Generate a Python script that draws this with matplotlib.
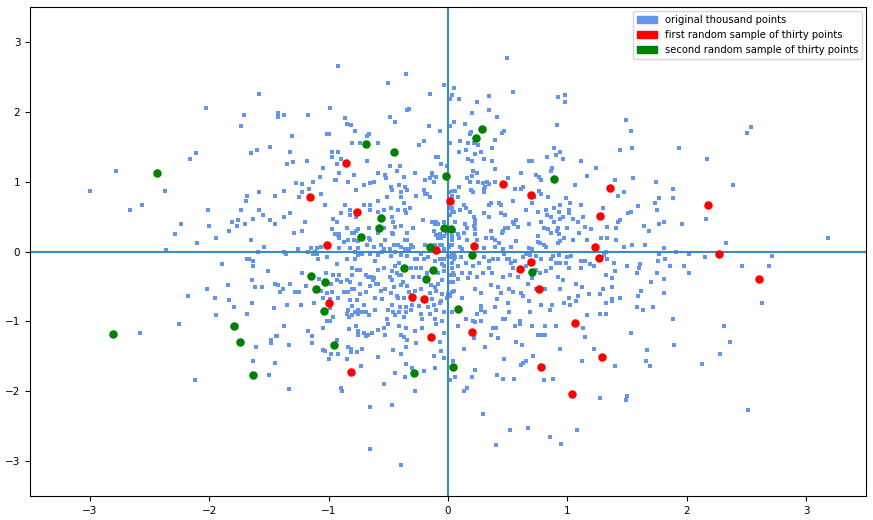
import matplotlib
matplotlib.use("Agg")
import matplotlib.pyplot as plt
import matplotlib.patches as mpatches

# ---- original thousand points (grouped by region) ----
blue_far_left = [(-2.03,2.06),(-1.71,1.95),(-1.73,1.79),(-2.11,1.41),(-2.16,1.32),(-2.78,1.15),
    (-3.00,0.87),(-2.37,0.86),(-2.66,0.60),(-2.56,0.66),(-2.01,0.59),(-2.24,0.40),(-2.00,0.37),
    (-1.81,0.42),(-1.76,0.45),(-1.77,0.36),(-1.83,0.30),(-2.29,0.25),(-1.94,0.19),(-2.10,0.12),
    (-2.36,0.02),(-1.89,-0.18),(-1.84,-0.48),(-2.02,-0.54),(-2.18,-0.63),(-1.95,-0.66),(-1.83,-0.70),
    (-1.79,-0.80),(-1.94,-0.91),(-2.25,-1.03),(-2.58,-1.16),(-2.12,-1.84)]

blue_upper_left = [(-0.92,2.65),(-0.35,2.54),(-0.50,2.41),(-0.03,2.38),(0.05,2.34),(-1.58,2.25),(-0.15,2.26),
    (0.03,2.24),(0.02,2.19),(-0.99,2.05),(-1.42,1.99),(-1.42,1.92),(-1.37,1.95),(-1.17,1.95),(-0.86,1.91),
    (-0.34,2.02),(-0.33,2.04),(-0.49,1.93),(-0.44,1.85),(-0.85,1.82),(-0.81,1.81),(-0.78,1.73),(-1.01,1.68),
    (-0.995,1.685),(-1.31,1.66),(-0.68,1.66),(-0.66,1.68),(-0.16,1.79),(-0.07,1.72),(0.02,1.79),(0.05,1.86),
    (-0.80,1.55),(-0.74,1.55),(-0.59,1.55),(-0.20,1.58),(-0.24,1.52),(0.02,1.56),(-1.49,1.49),(-1.65,1.41),
    (-1.60,1.46),(-1.32,1.42),(-0.97,1.43),(-0.92,1.42),(-0.97,1.35),(-0.90,1.32),(-0.68,1.30),(-1.35,1.26),
    (-1.30,1.28),(-1.18,1.30),(-0.93,1.25),(-0.10,1.36),(-0.08,1.36),(-0.06,1.26),(-0.01,1.23),(-0.49,1.22),
    (-0.40,1.22)]

blue_upper_right = [(0.49,2.77),(0.09,2.19),(0.54,2.29),(0.34,2.22),(0.24,2.14),(0.92,2.21),(0.98,2.24),
    (0.98,2.14),(0.20,1.99),(0.34,2.02),(0.41,1.93),(0.14,1.83),(0.91,1.81),(1.49,1.89),(1.53,1.72),
    (1.54,1.48),(1.44,1.46),(0.19,1.71),(0.18,1.68),(0.47,1.73),(0.45,1.69),(0.10,1.58),(0.17,1.56),
    (0.22,1.55),(0.25,1.52),(0.39,1.59),(0.37,1.48),(0.09,1.42),(0.15,1.45),(0.23,1.39),(0.28,1.43),
    (0.30,1.33),(0.17,1.33),(0.20,1.29),(0.37,1.30),(0.89,1.48),(0.90,1.38),(0.94,1.42),(0.83,1.36),
    (0.96,1.33),(0.68,1.30),(0.70,1.30),(1.11,1.30),
    (2.54,1.78),(2.50,1.69),(1.93,1.48),(2.17,1.33)]

blue_center_left = [(-1.05,1.20),(-0.91,1.12),(-0.79,1.09),(-0.59,1.12),(-0.53,1.09),(-0.43,1.15),(-0.28,1.12),
    (-0.13,1.13),(-0.13,1.09),(-0.10,1.06),(-0.15,1.05),(-1.07,1.06),(-0.95,1.02),(-0.94,1.02),(-0.84,0.99),
    (-0.70,0.95),(-0.65,0.98),(-0.62,0.99),(-0.52,1.05),(-0.48,0.93),(-0.41,0.95),(-0.37,1.06),(-0.36,0.93),
    (-0.19,1.02),(-0.12,1.00),(-1.27,0.98),(-1.22,0.96),(-1.13,0.99),(-1.16,0.90),(-1.22,0.85),(-1.37,0.86),
    (-1.45,0.80),(-1.58,0.85),(-1.68,0.80),(-1.69,0.73),(-1.25,0.78),(-1.06,0.82),(-0.77,0.88),(-0.47,0.88),
    (-0.39,0.85),(-0.34,0.88),(-0.27,0.80),(-0.20,0.88),(-0.19,0.83),(-0.18,0.82),(-0.15,0.78),(-0.39,0.78),
    (-0.51,0.78),(-0.37,0.70),(-0.59,0.72),(-0.70,0.67),(-0.65,0.67),(-0.86,0.66),(-1.03,0.67),(0.01,0.85),
    (0.04,0.86),(-1.73,0.59),(-1.58,0.60),(-1.55,0.53),(-1.63,0.46),(-1.49,0.45),(-1.45,0.39),(-1.37,0.50),
    (-1.32,0.55),(-1.20,0.42),(-0.90,0.55),(-0.96,0.47),(-0.82,0.60),(-0.82,0.53),(-0.93,0.43),(-0.77,0.49),
    (-0.65,0.59),(-0.59,0.57),(-0.54,0.60),(-0.48,0.62),(-0.47,0.49),(-0.42,0.59),(-0.36,0.60),(-0.35,0.55),
    (-0.46,0.42),(-0.39,0.37),(-0.32,0.63),(-0.21,0.45),(-0.11,0.40),(-0.13,0.42),(-0.10,0.42),(-0.08,0.40),
    (-0.03,0.43),(0.01,0.62),(0.03,0.63),(0.05,0.56),(0.02,0.52),(-1.70,0.39),(-1.65,0.16),(-1.29,0.26),
    (-1.22,0.29),(-0.97,0.32),(-0.95,0.25),(-0.92,0.23),(-0.91,0.19),(-0.91,0.25),(-0.85,0.33),(-0.84,0.17),
    (-0.80,0.26),(-0.79,0.27),(-0.77,0.29),(-0.75,0.32),(-0.79,0.16),(-0.87,0.13),(-0.75,0.15),(-0.66,0.33),
    (-0.66,0.20),(-0.65,0.17),(-0.59,0.26),(-0.54,0.33),(-0.53,0.17),(-0.47,0.27),(-0.46,0.25),(-0.44,0.35),
    (-0.36,0.16),(-0.34,0.16),(-0.34,0.26),(-0.29,0.33),(-0.12,0.30),(-0.10,0.23),(-0.08,0.20),(-0.07,0.25),
    (-0.06,0.19),(-0.03,0.22),(-0.01,0.27),(0.02,0.33),(0.03,0.22),(0.03,0.17),(0.05,0.29),(-1.54,0.06),
    (-1.26,0.03),(-1.15,0.05),(-1.10,0.05),(-1.06,0.06),(-0.91,0.05),(-0.82,0.05),(-0.75,0.05),(-0.68,0.09),
    (-0.62,0.07),(-0.56,0.09),(-0.54,0.03),(-0.49,0.03),(-0.45,0.09),(-0.42,0.10),(-0.39,0.06),(-0.36,0.03),
    (-0.33,0.03),(-0.31,0.10),(-0.29,0.07),(-0.19,0.09),(-0.11,0.09),(-0.07,0.09),(-0.05,0.10),(-0.03,0.03),
    (0.01,0.06),(0.03,0.10)]

blue_center_left_low = [(-1.68,-0.10),(-1.67,-0.11),(-1.63,-0.14),(-1.63,-0.21),(-1.59,0.00),(-1.37,-0.01),
    (-1.36,-0.04),(-1.17,-0.01),(-1.13,-0.04),(-1.11,0.00),(-1.10,-0.03),(-1.09,-0.10),(-1.01,-0.08),
    (-0.93,-0.18),(-0.85,-0.11),(-0.78,-0.01),(-0.78,-0.11),(-0.75,-0.05),(-0.72,-0.03),(-0.65,-0.03),
    (-0.59,-0.05),(-0.61,-0.13),(-0.55,-0.01),(-0.48,-0.07),(-0.44,-0.01),(-0.39,-0.05),(-0.34,-0.07),
    (-0.28,-0.10),(-0.26,-0.11),(-0.23,-0.03),(-0.20,-0.11),(-0.17,-0.08),(-0.11,-0.13),(-0.07,-0.10),
    (-0.03,-0.10),(0.00,-0.07),(0.03,-0.05),(0.05,-0.04),(0.03,-0.08),(-0.44,-0.21),(-0.41,-0.16),
    (-0.31,-0.24),(-0.27,-0.23),(-0.23,-0.24),(-0.05,-0.18),(-0.03,-0.21),(0.03,-0.17),(0.05,-0.10),
    (-1.51,-0.28),(-1.22,-0.30),(-1.02,-0.31),(-0.96,-0.34),(-0.91,-0.34),(-0.80,-0.24),(-0.80,-0.33),
    (-0.85,-0.41),(-0.76,-0.27),(-0.74,-0.27),(-0.67,-0.36),(-0.69,-0.33),(-0.64,-0.37),(-0.62,-0.38),
    (-0.63,-0.41),(-0.59,-0.26),(-0.54,-0.24),(-0.59,-0.47),(-0.49,-0.36),(-0.47,-0.28),(-0.43,-0.30),
    (-0.41,-0.34),(-0.39,-0.33),(-0.47,-0.41),(-0.38,-0.44),(-0.39,-0.48),(-0.29,-0.36),(-0.24,-0.37),
    (-0.18,-0.31),(-0.08,-0.30),(-0.03,-0.28),(0.02,-0.34),(0.04,-0.31),(-0.05,-0.41),(-0.08,-0.47),
    (-0.11,-0.51),(-0.14,-0.48),(0.02,-0.43),(-1.64,-0.41),(-1.62,-0.51),(-1.56,-0.51),(-1.45,-0.46),
    (-1.42,-0.48),(-1.32,-0.46),(-1.19,-0.50),(-1.08,-0.40),(-0.98,-0.46),(-0.93,-0.41),(-0.90,-0.43),
    (-0.82,-0.43),(-0.80,-0.53),(-0.79,-0.53),(-0.74,-0.46),(-0.65,-0.50),(-0.60,-0.47),(-0.53,-0.53),
    (-0.45,-0.51),(-0.34,-0.50),(-1.38,-0.54),(-1.41,-0.58),(-1.28,-0.58),(-1.25,-0.58),(-1.06,-0.56),
    (-1.01,-0.60),(-0.97,-0.58),(-0.87,-0.58),(-0.84,-0.58),(-0.74,-0.61),(-0.69,-0.58),(-0.56,-0.57),
    (-0.48,-0.60),(-0.43,-0.64),(-0.37,-0.66),(-0.33,-0.58),(-0.28,-0.57),(-0.23,-0.54),(-0.15,-0.60),
    (-0.10,-0.57),(-0.05,-0.61),(0.00,-0.61),(0.05,-0.57),(-1.05,-0.67),(-0.99,-0.68),(-0.92,-0.67),
    (-0.82,-0.70),(-0.76,-0.70),(-0.61,-0.66),(-0.55,-0.68),(-0.42,-0.67),(-0.29,-0.70),(-0.13,-0.68),
    (-0.06,-0.71),(-0.01,-0.66),(-1.64,-0.73),(-1.35,-0.76),(-1.23,-0.76),(-1.12,-0.73),(-0.80,-0.78),
    (-0.70,-0.77),(-0.47,-0.77),(-0.40,-0.80),(-0.35,-0.80),(-0.30,-0.76),(-0.24,-0.78),(-0.17,-0.80),
    (-0.12,-0.77),(-0.07,-0.74),(-1.68,-0.89),(-1.46,-0.81),(-0.99,-0.81),(-0.84,-0.83),(-0.78,-0.86),
    (-0.75,-0.83),(-0.75,-0.90),(-0.85,-0.90),(-0.69,-0.86),(-0.61,-0.83),(-0.50,-0.84),(-0.46,-0.86),
    (-0.41,-0.87),(-0.35,-0.86),(-0.31,-0.84),(-0.23,-0.89),(-0.15,-0.89),(-0.10,-0.83),(-0.03,-0.86),
    (0.03,-0.86),(-1.01,-1.00),(-0.99,-1.00),(-0.96,-0.94),(-0.83,-0.93),(-0.80,-0.91),(-0.72,-0.87),
    (-0.66,-0.91),(-0.51,-0.96),(-0.44,-0.91),(-0.37,-0.94),(-0.22,-0.96),(-0.11,-0.96),(-0.05,-0.99),
    (-1.37,-1.07),(-1.17,-1.14),(-1.05,-1.09),(-0.83,-1.11),(-0.77,-1.07),(-0.75,-1.14),(-0.70,-1.16),
    (-0.64,-1.16),(-0.59,-1.13),(-0.54,-1.10),(-0.50,-1.04),(-0.41,-1.06),(-0.35,-1.09),(-0.28,-1.14),
    (-0.22,-1.09),(-0.10,-1.04),(-1.43,-1.21),(-0.75,-1.19),(-0.67,-1.20),(-0.53,-1.20),(-0.39,-1.19),
    (-0.03,-1.17)]

blue_center_right = [(0.21,1.16),(0.24,1.13),(0.20,1.08),(0.39,1.18),(0.61,1.12),(0.74,1.10),(0.76,1.06),
    (0.78,1.03),(0.86,1.15),(0.87,1.20),(1.16,1.08),(1.40,1.03),(1.24,1.20),(0.09,0.93),(0.16,1.05),
    (0.18,0.99),(0.25,1.00),(0.29,0.98),(0.33,1.00),(0.39,1.00),(0.50,1.05),(0.06,0.86),(0.03,0.80),
    (0.08,0.78),(0.13,0.66),(0.19,0.88),(0.21,0.85),(0.30,0.90),(0.30,0.85),(0.31,0.92),(0.34,0.96),
    (0.36,0.70),(0.34,0.67),(0.43,0.70),(0.44,0.67),(0.54,0.72),(0.56,0.89),(0.61,0.90),(0.63,0.92),
    (0.70,0.69),(0.72,0.78),(0.76,0.86),(0.78,0.82),(0.84,0.78),(0.89,0.63),(0.94,0.67),(0.99,0.76),
    (1.02,0.70),(1.06,0.95),(1.11,0.66),(1.30,0.62),(1.42,0.79),(1.47,0.85),(1.55,1.05),(1.59,0.65),
    (1.74,0.99),(1.77,0.76),(1.73,0.70),(0.02,0.62),(0.03,0.56),(0.10,0.59),(0.15,0.62),(0.18,0.57),
    (0.22,0.50),(0.23,0.45),(0.23,0.39),(0.30,0.55),(0.34,0.49),(0.44,0.55),(0.48,0.52),(0.54,0.43),
    (0.55,0.40),(0.57,0.45),(0.65,0.59),(0.68,0.40),(0.75,0.56),(0.78,0.43),(0.82,0.59),(0.83,0.52),
    (0.86,0.49),(0.89,0.43),(0.93,0.56),(0.94,0.46),(0.96,0.49),(1.01,0.60),(1.01,0.55),(1.05,0.47),
    (1.09,0.42),(1.13,0.49),(1.15,0.35),(1.20,0.32),(1.33,0.35),(1.41,0.33),(1.42,0.42),(1.44,0.45),
    (1.51,0.55),(1.53,0.56),(1.64,0.37),(1.68,0.30),(1.75,0.60),(1.81,0.43),(0.04,0.32),(0.13,0.26),
    (0.16,0.33),(0.23,0.32),(0.22,0.37),(0.14,0.40),(0.06,0.43),(0.08,0.25),(0.09,0.19),(0.16,0.17),
    (0.23,0.25),(0.24,0.17),(0.32,0.20),(0.36,0.30),(0.37,0.19),(0.39,0.16),(0.43,0.12),(0.45,0.27),
    (0.46,0.30),(0.48,0.33),(0.50,0.33),(0.57,0.15),(0.59,0.35),(0.75,0.22),(0.80,0.33),(0.84,0.32),
    (0.86,0.27),(0.91,0.30),(0.92,0.33),(0.93,0.25),(0.97,0.19),(1.00,0.33),(1.05,0.16),(1.10,0.27),
    (1.16,0.17),(1.28,0.20),(1.33,0.20),(1.41,0.16),(1.47,0.06),(1.54,0.09),(1.65,0.10),(1.81,0.05),
    (0.02,0.10),(0.10,0.06),(0.12,0.03),(0.30,0.05),(0.39,0.07),(0.46,0.03),(0.53,0.06),(0.68,0.05),
    (0.70,0.03),(0.75,0.13),(0.77,0.12),(0.80,0.09),(0.82,0.07),(0.92,0.12),(0.94,0.15)]

blue_center_right_low = [(0.02,-0.08),(0.06,-0.08),(0.11,-0.08),(0.15,-0.16),(0.21,-0.20),(0.26,-0.16),
    (0.30,-0.08),(0.34,-0.14),(0.38,-0.10),(0.42,-0.10),(0.49,-0.10),(0.51,-0.11),(0.53,-0.16),(0.47,-0.04),
    (0.56,-0.14),(0.63,-0.08),(0.65,-0.03),(0.69,-0.05),(0.74,-0.07),(0.78,-0.10),(0.86,-0.10),(0.88,-0.07),
    (0.90,-0.16),(0.93,-0.05),(0.94,-0.17),(1.00,-0.08),(0.99,-0.17),(1.03,-0.07),(1.11,-0.14),(1.11,-0.23),
    (1.15,-0.14),(1.19,-0.18),(1.22,-0.20),(1.33,-0.10),(1.32,-0.01),(1.31,-0.05),(1.39,-0.16),(1.50,-0.21),
    (1.61,-0.18),(1.77,-0.04),(1.82,-0.10),(0.03,-0.24),(0.08,-0.20),(0.05,-0.33),(0.08,-0.40),(0.12,-0.31),
    (0.17,-0.38),(0.18,-0.30),(0.24,-0.37),(0.29,-0.31),(0.34,-0.23),(0.37,-0.30),(0.46,-0.36),(0.52,-0.33),
    (0.54,-0.24),(0.59,-0.37),(0.65,-0.21),(0.67,-0.46),(0.70,-0.38),(0.74,-0.26),(0.77,-0.30),(0.82,-0.28),
    (0.86,-0.24),(0.92,-0.37),(0.96,-0.41),(1.01,-0.24),(1.07,-0.46),(1.12,-0.51),(1.32,-0.33),(1.40,-0.28),
    (1.37,-0.38),(1.37,-0.51),(1.58,-0.30),(1.60,-0.24),(1.70,-0.43),(1.75,-0.30),(1.81,-0.40),(0.04,-0.43),
    (0.03,-0.58),(0.02,-0.63),(0.12,-0.66),(0.23,-0.53),(0.28,-0.60),(0.36,-0.48),(0.42,-0.51),(0.44,-0.60),
    (0.51,-0.54),(0.54,-0.58),(0.61,-0.60),(0.63,-0.63),(0.68,-0.71),(0.74,-0.53),(0.81,-0.54),(0.94,-0.53),
    (1.01,-0.66),(1.09,-0.63),(1.18,-0.61),(1.27,-0.61),(1.30,-0.54),(1.32,-0.74),(1.37,-0.71),(1.44,-0.67),
    (1.59,-0.64),(1.62,-0.56),(1.81,-0.60),(0.41,-0.68),(0.50,-0.74),(0.28,-0.78),(0.28,-0.84),(0.24,-0.89),
    (0.21,-1.00),(0.23,-1.01),(0.31,-0.87),(0.39,-0.80),(0.46,-0.97),(0.48,-0.97),(0.51,-0.86),(0.60,-0.99),
    (0.60,-1.04),(0.69,-0.86),(0.78,-0.77),(0.85,-0.84),(0.87,-0.76),(0.97,-0.73),(1.02,-0.76),(1.07,-0.71),
    (1.16,-0.91),(1.27,-0.89),(1.32,-0.89),(1.37,-0.68),(1.58,-0.80),(1.63,-0.83),(1.72,-0.80),(0.15,-0.97),
    (0.08,-1.07),(0.28,-1.00),(0.38,-1.10),(0.40,-1.10),(0.56,-1.07),(0.70,-1.06),(0.81,-1.07),(0.75,-1.19),
    (0.78,-1.19),(0.81,-1.20),(0.90,-1.07),(1.13,-1.09),(1.53,-1.17),(0.36,-1.20)]

blue_far_right = [(1.88,0.90),(1.88,0.76),(2.39,0.95),(2.16,0.47),(1.77,0.40),(1.96,0.39),(2.33,0.12),
    (3.18,0.19),(1.91,-0.01),(2.02,-0.04),(2.15,-0.08),(1.76,-0.13),(1.86,-0.21),(1.98,-0.20),(2.02,-0.31),
    (2.46,-0.21),(2.71,-0.07),(2.69,-0.20),(2.63,-0.74),(1.88,-0.97),(2.31,-1.06),
    (1.89,-1.34),(2.36,-1.29),(2.28,-1.46),(2.13,-1.61),(2.51,-2.27)]

blue_lower = [(-1.14,-1.21),(-1.44,-1.21),(-1.48,-1.27),(-1.48,-1.31),(-1.61,-1.37),(-1.33,-1.34),(-1.14,-1.31),
    (-0.93,-1.26),(-1.05,-1.41),(-1.03,-1.43),(-0.98,-1.47),(-0.92,-1.46),(-1.00,-1.54),(-0.84,-1.37),
    (-0.81,-1.40),(-0.81,-1.44),(-0.76,-1.44),(-0.72,-1.39),(-0.85,-1.54),(-0.73,-1.64),(-0.69,-1.21),
    (-0.59,-1.51),(-0.46,-1.41),(-0.39,-1.47),(-0.37,-1.23),(-0.34,-1.26),(-0.35,-1.37),(-0.27,-1.31),
    (-0.35,-1.61),(-0.30,-1.67),(-0.20,-1.71),(-0.11,-1.66),(-0.12,-1.49),(-0.07,-1.30),(-0.06,-1.43),
    (-0.03,-1.53),(-0.44,-1.74),(-0.36,-1.79),(-0.54,-1.89),(-0.28,-2.00),(-1.63,-1.57),(-1.45,-1.59),
    (-1.50,-1.77),(-1.33,-1.97),(-0.90,-1.96),(-0.89,-1.99),(-0.65,-2.23),(-0.47,-2.20),(-0.65,-2.83),
    (-0.39,-3.05),(0.04,-1.57),(0.02,-1.84),(0.06,-1.80),
    (0.22,-1.21),(0.22,-1.24),(0.42,-1.24),(1.15,-1.23),(0.57,-1.29),(0.62,-1.34),(0.13,-1.40),(0.31,-1.37),
    (0.94,-1.39),(1.22,-1.40),(1.67,-1.41),(1.66,-1.56),(1.69,-1.64),(1.40,-1.64),(1.12,-1.56),(0.71,-1.50),
    (0.47,-1.54),(0.65,-1.57),(0.63,-1.60),(0.61,-1.63),(0.23,-1.69),(0.20,-1.79),(0.41,-1.77),(0.46,-1.83),
    (0.55,-1.82),(0.80,-1.84),(0.88,-1.83),(0.13,-1.99),(0.16,-1.96),(0.29,-2.32),(0.52,-2.55),(0.67,-2.53),
    (0.85,-2.66),(0.95,-2.75),(1.08,-2.56),(0.40,-2.77),(1.27,-2.09),(1.50,-2.07),(1.49,-2.13)]

# ---- first random sample of thirty points ----
red_x = [-0.855, -1.157, -0.763, -1.014, -0.100, 0.017, 0.461, 0.696, 1.358, 1.274,
         0.215, 1.232, 1.266, 0.696, 0.604, 0.763, 1.065, 0.201, 2.179, 2.272,
         2.607, -0.302, -0.201, -0.997, -0.813, -0.142, 0.780, 1.291, 1.039]
red_y = [1.262, 0.776, 0.561, 0.089, 0.021, 0.718, 0.962, 0.804, 0.905, 0.504,
         0.074, 0.060, -0.097, -0.155, -0.255, -0.541, -1.028, -1.157, 0.661, -0.040,
         -0.398, -0.656, -0.684, -0.741, -1.729, -1.228, -1.658, -1.514, -2.044]

# ---- second random sample of thirty points ----
green_x = [-0.687, -0.453, 0.285, 0.235, -2.440, -1.794, -2.808, -1.743, -0.562, -0.578,
           -0.729, -0.151, -0.036, 0.025, -0.019, -0.371, -0.126, -0.184, -1.151, -1.031,
           -1.106, -1.039, 0.084, 0.889, 0.201, 0.704, -1.634, -0.955, -0.285, 0.042]
green_y = [1.534, 1.420, 1.749, 1.620, 1.119, -1.071, -1.185, -1.300, 0.475, 0.332,
           0.203, 0.060, 0.332, 0.318, 1.076, -0.240, -0.270, -0.398, -0.355, -0.441,
           -0.541, -0.856, -0.827, 1.033, -0.054, -0.298, -1.772, -1.343, -1.743, -1.658]

legend_labels = ["original thousand points",
                 "first random sample of thirty points",
                 "second random sample of thirty points"]
ticks = [-3, -2, -1, 0, 1, 2, 3]

blue_all = (blue_far_left + blue_upper_left + blue_upper_right + blue_center_left +
            blue_center_left_low + blue_center_right + blue_center_right_low +
            blue_far_right + blue_lower)
blue_x = [p[0] for p in blue_all]
blue_y = [p[1] for p in blue_all]

plt.rcParams['font.family'] = ['DejaVu Sans']
plt.rcParams['font.size'] = 7.5

fig = plt.figure(figsize=(8.73, 5.2), dpi=100)
ax = fig.add_axes([0.0344, 0.046, 0.9576, 0.9405])

ax.scatter(blue_x, blue_y, s=4.7, color='cornflowerblue', marker='s', linewidths=0,
           antialiased=False)
ax.axhline(0, color='#3a8ac4', linewidth=1.5)
ax.axvline(0, color='#3a8ac4', linewidth=1.5)
ax.scatter(red_x, red_y, s=26, color='red', zorder=3)
ax.scatter(green_x, green_y, s=26, color='green', zorder=3)

ax.set_xlim(-3.5, 3.5)
ax.set_ylim(-3.5, 3.5)
ax.set_xticks(ticks)
ax.set_yticks(ticks)

handles = [mpatches.Patch(color='cornflowerblue', label=legend_labels[0]),
           mpatches.Patch(color='red', label=legend_labels[1]),
           mpatches.Patch(color='green', label=legend_labels[2])]
ax.legend(handles=handles, loc='upper right', fontsize=7.2, borderaxespad=0.4)

fig.savefig('out.png', dpi=100)
